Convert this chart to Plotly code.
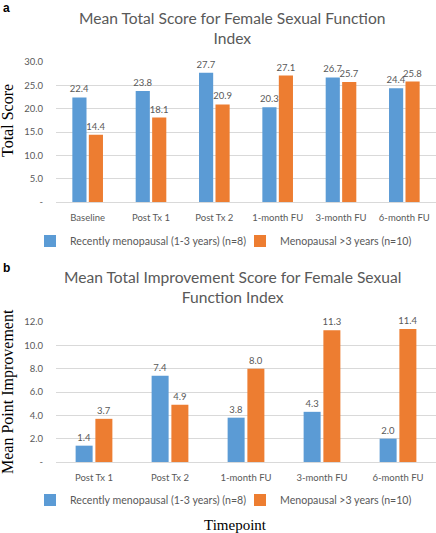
import plotly.graph_objects as go

# ---------------- data ----------------
cats_a = ["Baseline", "Post Tx 1", "Post Tx 2", "1-month FU", "3-month FU", "6-month FU"]
recent_a = [22.4, 23.8, 27.7, 20.3, 26.7, 24.4]
meno_a = [14.4, 18.1, 20.9, 27.1, 25.7, 25.8]

cats_b = ["Post Tx 1", "Post Tx 2", "1-month FU", "3-month FU", "6-month FU"]
recent_b = [1.4, 7.4, 3.8, 4.3, 2.0]
meno_b = [3.7, 4.9, 8.0, 11.3, 11.4]

series_names = ["Recently menopausal (1-3 years) (n=8)", "Menopausal >3 years (n=10)"]

ticks_a = [0, 5, 10, 15, 20, 25, 30]
ticktext_a = ["-", "5.0", "10.0", "15.0", "20.0", "25.0", "30.0"]
ticks_b = [0, 2, 4, 6, 8, 10, 12]
ticktext_b = ["-", "2.0", "4.0", "6.0", "8.0", "10.0", "12.0"]

title_a = "Mean Total Score for Female Sexual Function<br>Index"
title_b = "Mean Total Improvement Score for Female Sexual<br>Function Index"

# ---------------- style ----------------
W, H = 436, 533
BLUE = "#5B9BD5"
ORANGE = "#ED7D31"
GRAY = "#595959"
GRID = "#D9D9D9"
SANS = "Lato, 'Open Sans', sans-serif"
SERIF = "'Liberation Serif', 'DejaVu Serif', serif"
TICK = 9.5


def px_x(x):
    return x / W


def px_y(y):
    return 1 - y / H


fig = go.Figure()

for vals, name, color in [(recent_a, series_names[0], BLUE), (meno_a, series_names[1], ORANGE)]:
    fig.add_trace(go.Bar(
        x=cats_a, y=vals, name=name, marker=dict(color=color, line=dict(width=0)),
        texttemplate="%{y:.1f}", textposition="outside", cliponaxis=False,
        constraintext="none", textfont=dict(size=TICK, color=GRAY, family=SANS),
        xaxis="x", yaxis="y", legend="legend",
    ))

for vals, name, color in [(recent_b, series_names[0], BLUE), (meno_b, series_names[1], ORANGE)]:
    fig.add_trace(go.Bar(
        x=cats_b, y=vals, name=name, marker=dict(color=color, line=dict(width=0)),
        texttemplate="%{y:.1f}", textposition="outside", cliponaxis=False,
        constraintext="none", textfont=dict(size=TICK, color=GRAY, family=SANS),
        xaxis="x2", yaxis="y2", legend="legend2",
    ))

axis_common = dict(tickfont=dict(size=TICK, color=GRAY, family=SANS), fixedrange=True,
                   automargin=False)
legend_common = dict(orientation="h", xanchor="left", x=px_x(30), yanchor="middle",
                     entrywidth=165, entrywidthmode="pixels",
                     font=dict(size=10.6, color=GRAY, family=SANS), bgcolor="rgba(0,0,0,0)")

fig.update_layout(
    width=W, height=H,
    margin=dict(l=0, r=0, t=0, b=0, autoexpand=False),
    paper_bgcolor="white", plot_bgcolor="white",
    barmode="group", bargap=0.48, bargroupgap=0.14,
    font=dict(family=SANS, color=GRAY),
    xaxis=dict(domain=[px_x(56), 1], anchor="y", showline=True, linecolor=GRID,
               linewidth=1, showgrid=False, ticks="", ticklabelstandoff=7, **axis_common),
    yaxis=dict(domain=[px_y(202), px_y(62)], anchor="x", range=[0, 30],
               tickvals=ticks_a, ticktext=ticktext_a, showgrid=True, gridcolor=GRID,
               zeroline=False, showline=False, ticks="", ticklabelstandoff=12, **axis_common),
    xaxis2=dict(domain=[px_x(56), 1], anchor="y2", showline=True, linecolor=GRID,
                linewidth=1, showgrid=False, ticks="", ticklabelstandoff=7, **axis_common),
    yaxis2=dict(domain=[px_y(462), px_y(322)], anchor="x2", range=[0, 12],
                tickvals=ticks_b, ticktext=ticktext_b, showgrid=True, gridcolor=GRID,
                zeroline=False, showline=False, ticks="", ticklabelstandoff=12, **axis_common),
    legend=dict(y=px_y(241), **legend_common),
    legend2=dict(y=px_y(500), **legend_common),
    showlegend=True,
)

annotations = [
    dict(text="<b>a</b>", x=px_x(1), y=px_y(8), xanchor="left", yanchor="middle",
         font=dict(size=12, color="black", family="Liberation Sans, Arial, sans-serif")),
    dict(text="<b>b</b>", x=px_x(1), y=px_y(268), xanchor="left", yanchor="middle",
         font=dict(size=12, color="black", family="Liberation Sans, Arial, sans-serif")),
    dict(text=title_a, x=px_x(232), y=px_y(28), xanchor="center", yanchor="middle",
         font=dict(size=15.6, color=GRAY, family=SANS)),
    dict(text=title_b, x=px_x(232), y=px_y(287), xanchor="center", yanchor="middle",
         font=dict(size=15.6, color=GRAY, family=SANS)),
    dict(text="Total Score", x=px_x(8), y=px_y(121), xanchor="center", yanchor="middle",
         textangle=-90, font=dict(size=16, color="black", family=SERIF)),
    dict(text="Mean Point Improvement", x=px_x(8), y=px_y(392), xanchor="center",
         yanchor="middle", textangle=-90, font=dict(size=16, color="black", family=SERIF)),
    dict(text="Timepoint", x=px_x(235), y=px_y(525), xanchor="center", yanchor="middle",
         font=dict(size=15, color="black", family=SERIF)),
]
for a in annotations:
    a.update(xref="paper", yref="paper", showarrow=False)
fig.update_layout(annotations=annotations)

fig.write_html("out.html", config={"displayModeBar": False, "responsive": False},
               post_script="document.body.style.margin='0';")
